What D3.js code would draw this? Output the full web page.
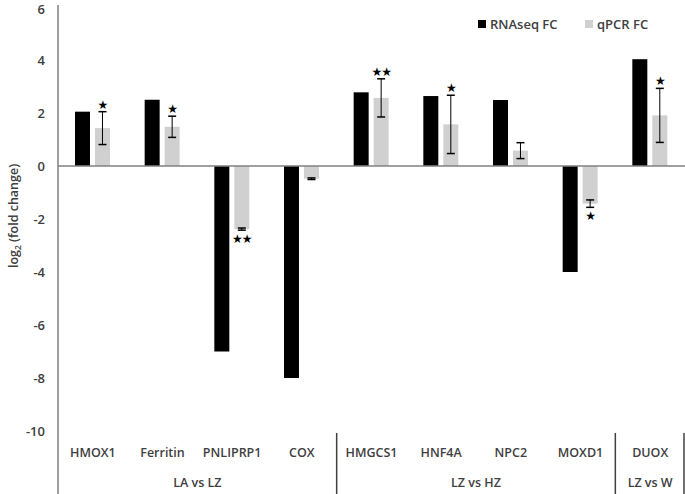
<!DOCTYPE html>
<html>
<head>
<meta charset="utf-8">
<script src="https://cdn.jsdelivr.net/npm/d3@7"></script>
<style>
  body { margin: 0; background: #fff; }
  svg text { font-family: "Open Sans", sans-serif; font-weight: 600; fill: #404040; }
</style>
</head>
<body>
<script>
'use strict'
const genes = ["HMOX1", "Ferritin", "PNLIPRP1", "COX", "HMGCS1", "HNF4A", "NPC2", "MOXD1", "DUOX"];
const rnaseqFC = [2.05, 2.5, -7, -8, 2.78, 2.64, 2.49, -4, 4.03];
const qpcrFC = [1.43, 1.48, -2.38, -0.48, 2.57, 1.57, 0.58, -1.42, 1.91];
const qpcrErr = [0.62, 0.4, 0.04, 0.03, 0.72, 1.1, 0.3, 0.14, 1.02];
const stars = ["*", "*", "**", "", "**", "*", "", "*", "*"];
const groups = [
  { name: "LA vs LZ", from: 0, to: 3 },
  { name: "LZ vs HZ", from: 4, to: 7 },
  { name: "LZ vs W", from: 8, to: 8 }
];
const series = ["RNAseq FC", "qPCR FC"];
const yTicks = [6, 4, 2, 0, -2, -4, -6, -8, -10];

const W = 685, H = 494;
const left = 58, right = 685;
const colors = { "RNAseq FC": "#000000", "qPCR FC": "#d0d0d0" };

const svg = d3.select("body").append("svg")
  .attr("width", W)
  .attr("height", H);

const x = d3.scaleBand().domain(genes).range([left, right]);
const x1 = d3.scaleBand().domain(series)
  .range([x.bandwidth() * 0.244, x.bandwidth() * 0.746])
  .paddingInner(0.25);
const y = d3.scaleLinear().domain([-10, 6]).range([431, 7]);

// y tick labels
svg.selectAll(".ytick")
  .data(yTicks)
  .enter()
  .append("text")
  .attr("x", 45)
  .attr("y", d => Math.max(y(d), 9))
  .attr("dy", "0.35em")
  .attr("text-anchor", "end")
  .attr("font-size", "13px")
  .text(d => d);

// y title
svg.append("text")
  .attr("transform", "translate(18,216) rotate(-90)")
  .attr("text-anchor", "middle")
  .attr("font-size", "12.5px")
  .call(t => {
    t.append("tspan").text("log");
    t.append("tspan").attr("font-size", "8.5px").attr("dy", "3").text("2");
    t.append("tspan").attr("dy", "-3").text(" (fold change)");
  });

// bars
const rows = genes.map((g, i) => ({ gene: g, i: i, vals: [rnaseqFC[i], qpcrFC[i]] }));
const gBars = svg.selectAll(".gene")
  .data(rows)
  .enter()
  .append("g")
  .attr("transform", d => `translate(${x(d.gene)},0)`);

gBars.selectAll("rect")
  .data(d => series.map((s, k) => ({ s: s, v: d.vals[k] })))
  .enter()
  .append("rect")
  .attr("x", d => x1(d.s))
  .attr("width", x1.bandwidth())
  .attr("y", d => y(Math.max(0, d.v)))
  .attr("height", d => Math.abs(y(d.v) - y(0)))
  .attr("fill", d => colors[d.s]);

// error bars on qPCR, with significance stars
gBars.each(function(d) {
  const g = d3.select(this);
  const v = qpcrFC[d.i], e = qpcrErr[d.i];
  const c = x1("qPCR FC") + x1.bandwidth() / 2;
  const top = y(v + e), bot = y(v - e);
  g.append("line").attr("x1", c).attr("x2", c).attr("y1", top).attr("y2", bot)
    .attr("stroke", "#000").attr("stroke-width", 1);
  [top, bot].forEach(yy => g.append("line")
    .attr("x1", c - 4).attr("x2", c + 4).attr("y1", yy).attr("y2", yy)
    .attr("stroke", "#000").attr("stroke-width", 1.5));
  if (stars[d.i]) {
    const pos = v >= 0;
    g.append("text")
      .attr("x", c)
      .attr("y", pos ? top - 3 : bot + 13)
      .attr("text-anchor", "middle")
      .attr("font-size", "12px")
      .attr("letter-spacing", "-1px")
      .style("fill", "#000")
      .style("font-family", "DejaVu Sans")
      .style("font-weight", "400")
      .text(stars[d.i].replace(/\*/g, "\u2605"));
  }
});

// axes lines
svg.append("line")
  .attr("x1", left).attr("x2", right)
  .attr("y1", y(0)).attr("y2", y(0))
  .attr("stroke", "#808080").attr("stroke-width", 1.5);
svg.append("line")
  .attr("x1", left).attr("x2", left)
  .attr("y1", 5).attr("y2", H)
  .attr("stroke", "#808080").attr("stroke-width", 1.5);

// category labels
svg.selectAll(".cat")
  .data(genes)
  .enter()
  .append("text")
  .attr("x", d => x(d) + x.bandwidth() / 2)
  .attr("y", 457)
  .attr("text-anchor", "middle")
  .attr("font-size", "12.5px")
  .text(d => d);

// group labels and separators
groups.forEach(gr => {
  const x0 = x(genes[gr.from]);
  const xEnd = x(genes[gr.to]) + x.bandwidth();
  svg.append("text")
    .attr("x", (x0 + xEnd) / 2)
    .attr("y", 487)
    .attr("text-anchor", "middle")
    .attr("font-size", "12.5px")
    .text(gr.name);
  svg.append("line")
    .attr("x1", Math.min(xEnd, right - 1)).attr("x2", Math.min(xEnd, right - 1))
    .attr("y1", 433).attr("y2", H)
    .attr("stroke", "#404040").attr("stroke-width", 1.5);
});

// legend
const leg = svg.selectAll(".leg")
  .data(series)
  .enter()
  .append("g")
  .attr("transform", (d, i) => `translate(${[478, 585][i]},20)`);
leg.append("rect").attr("width", 8).attr("height", 8).attr("fill", d => colors[d]);
leg.append("text").attr("x", 12).attr("y", 4).attr("dy", "0.35em")
  .attr("font-size", "13px").text(d => d);
</script>
</body>
</html>
